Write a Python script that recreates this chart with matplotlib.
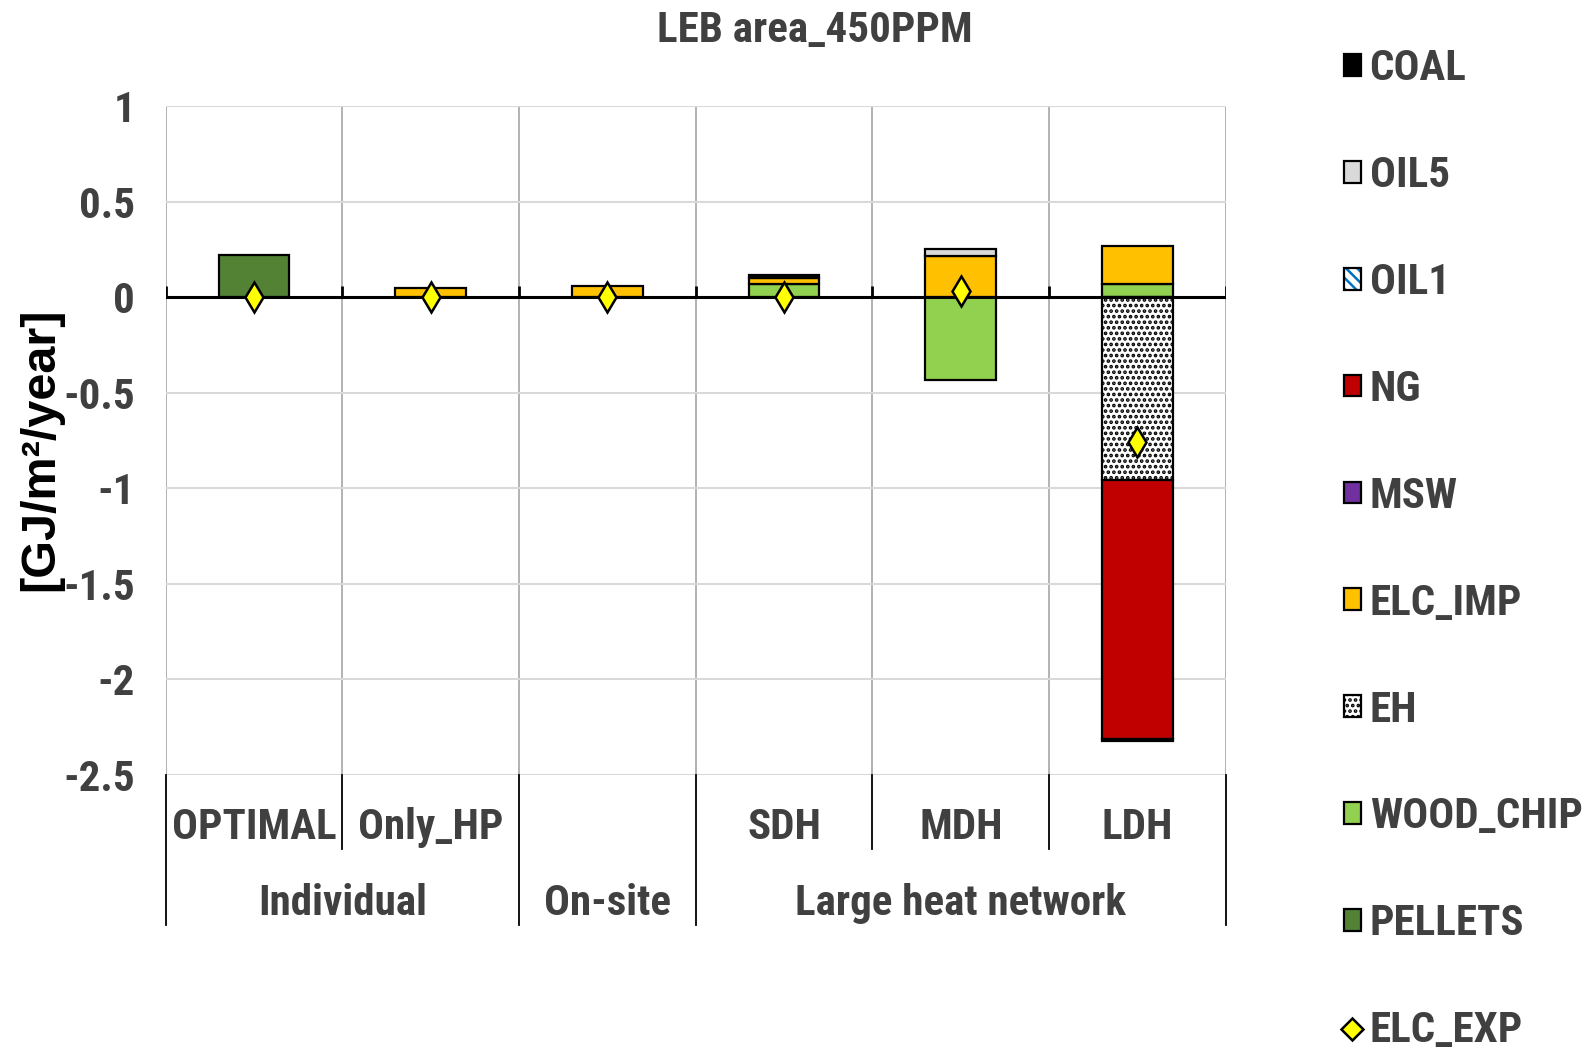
import matplotlib.pyplot as plt
from matplotlib.patches import Patch
from matplotlib.lines import Line2D
from matplotlib.transforms import blended_transform_factory
import numpy as np

plt.rcParams['font.family'] = ['Roboto Condensed', 'Liberation Sans', 'DejaVu Sans']
plt.rcParams['font.weight'] = 'bold'
plt.rcParams['hatch.linewidth'] = 1.8

# categories along the x axis and their grouping
categories = ['OPTIMAL', 'Only_HP', '', 'SDH', 'MDH', 'LDH']
groups = ['Individual', 'On-site', 'Large heat network']
group_spans = [(0, 1), (2, 2), (3, 5)]

# fuel use per category [GJ/m2/year]
coal = [0, 0, 0, 0.015, 0, -0.015]
oil5 = [0, 0, 0, 0, 0.035, 0]
oil1 = [0, 0, 0, 0, 0, 0]
ng = [0, 0, 0, 0, 0, -1.355]
msw = [0, 0, 0, 0, 0, 0]
elc_imp = [0, 0.05, 0.06, 0.03, 0.215, 0.20]
eh = [0, 0, 0, 0, 0, -0.955]
wood_chip = [0, 0, 0, 0.07, -0.435, 0.07]
pellets = [0.22, 0, 0, 0, 0, 0]
elc_exp = [0, 0, 0, 0, 0.033, -0.757]

yticks = [1, 0.5, 0, -0.5, -1, -1.5, -2, -2.5]

txt_col = '#404040'
fsize = 31
# name: (values, face colour, hatch, hatch colour)
series = {
    'COAL': (coal, '#000000', None, None),
    'OIL5': (oil5, '#D9D9D9', None, None),
    'OIL1': (oil1, '#FFFFFF', '\\\\\\', '#0070C0'),
    'NG': (ng, '#C00000', None, None),
    'MSW': (msw, '#7030A0', None, None),
    'ELC_IMP': (elc_imp, '#FFC000', None, None),
    'EH': (eh, '#FFFFFF', '...', '#000000'),
    'WOOD_CHIP': (wood_chip, '#92D050', None, None),
    'PELLETS': (pellets, '#548235', None, None),
}
stack_order = ['PELLETS', 'WOOD_CHIP', 'EH', 'ELC_IMP', 'MSW', 'NG', 'OIL1', 'OIL5', 'COAL']

fig = plt.figure(figsize=(15.94, 10.5), dpi=100)
ax = fig.add_axes([0.104, 0.262, 0.665, 0.637])

x = np.arange(len(categories))
pos_base = np.zeros(len(x))
neg_base = np.zeros(len(x))
for name in stack_order:
    vals, fc, hatch, hc = series[name]
    vals = np.array(vals, dtype=float)
    for i, v in enumerate(vals):
        if v == 0:
            continue
        if v > 0:
            b = pos_base[i]
            pos_base[i] += v
        else:
            b = neg_base[i]
            neg_base[i] += v
        ax.bar(x[i], v, bottom=b, width=0.4, color=fc, edgecolor='black',
               linewidth=1.6, hatch=hatch, zorder=3)

ax.plot(x, elc_exp, linestyle='none', marker='d', ms=15.5, mfc='#FFFF00',
        mec='black', mew=1.8, zorder=5)

ax.set_xlim(-0.5, len(categories) - 0.5)
ax.set_ylim(-2.5, 1)
ax.set_yticks(yticks)
ax.set_yticklabels([f'{v:g}' for v in yticks])
ax.tick_params(axis='y', length=0, pad=22, labelsize=fsize, labelcolor=txt_col)
ax.set_xticks([])
for s in ax.spines.values():
    s.set_visible(False)
ax.yaxis.grid(True, color='#D9D9D9', linewidth=1.5, zorder=0)

bounds = np.arange(-0.5, len(categories), 1.0)
ax.vlines(bounds, -2.5, 1, color='#A6A6A6', linewidth=1.2, zorder=1)
ax.axhline(0, color='black', linewidth=2.2, zorder=4)
ax.vlines(bounds, 0, 0.06, color='black', linewidth=2, zorder=4)

# two-level category axis under the plot
tr = blended_transform_factory(ax.transData, ax.transAxes)
for i, c in enumerate(categories):
    ax.text(x[i], -0.078, c, transform=tr, ha='center', va='center',
            fontsize=fsize, color=txt_col)
for g, (a, b) in zip(groups, group_spans):
    ax.text((a + b) / 2, -0.192, g, transform=tr, ha='center', va='center',
            fontsize=fsize, color=txt_col)
group_edges = [a - 0.5 for a, b in group_spans] + [group_spans[-1][1] + 0.5]
for bx in bounds:
    low = -0.224 if bx in group_edges else -0.111
    ax.plot([bx, bx], [0, low], transform=tr, color='black', linewidth=1.3,
            clip_on=False)

fig.text(0.511, 0.971, 'LEB area_450PPM', ha='center', va='center',
         fontsize=fsize, color=txt_col)
fig.text(0.0255, 0.572, '[GJ/m²/year]', rotation=90, ha='center', va='center',
         fontsize=35, color='black', family=['Liberation Sans', 'DejaVu Sans'])

handles = []
labels = []
for name in ['COAL', 'OIL5', 'OIL1', 'NG', 'MSW', 'ELC_IMP', 'EH', 'WOOD_CHIP', 'PELLETS']:
    vals, fc, hatch, hc = series[name]
    if hatch is not None:
        h = (Patch(facecolor=fc, edgecolor=hc, hatch=hatch, linewidth=0),
             Patch(facecolor='none', edgecolor='black', linewidth=1.6))
    else:
        h = Patch(facecolor=fc, edgecolor='black', linewidth=1.6)
    handles.append(h)
    labels.append(name)
handles.append(Line2D([], [], linestyle='none', marker='D', ms=11,
                      mfc='#FFFF00', mec='black', mew=1.8))
labels.append('ELC_EXP')

leg = fig.legend(handles, labels, loc='upper left', bbox_to_anchor=(0.843, 0.954),
                 frameon=False, fontsize=fsize, labelcolor=txt_col,
                 handlelength=0.4, handleheight=0.4, handletextpad=0.2,
                 labelspacing=1.53, borderpad=0, borderaxespad=0)

fig.savefig('out.png', dpi=100)
